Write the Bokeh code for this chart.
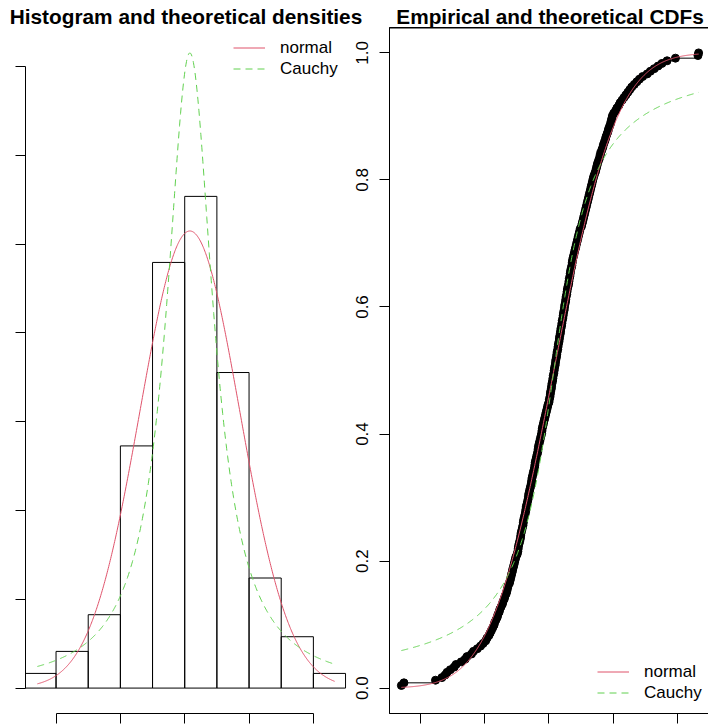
import math

import numpy as np
from bokeh.embed import file_html
from bokeh.layouts import row
from bokeh.models import (FixedTicker, Legend, LegendItem, PrintfTickFormatter,
                          Range1d, Span)
from bokeh.plotting import figure
from bokeh.resources import INLINE

# Observed sample (sorted), 242 values
SAMPLE = [
    -2.29, -2.25,
    -1.76, -1.66, -1.61, -1.58, -1.53,
    -1.47, -1.44, -1.36, -1.30, -1.27, -1.20, -1.17, -1.11, -1.06, -1.02,
    -0.98, -0.96, -0.93, -0.91, -0.89, -0.87, -0.85, -0.84, -0.82, -0.80,
    -0.79, -0.77, -0.76, -0.74, -0.72, -0.71, -0.69, -0.68, -0.66, -0.65,
    -0.64, -0.63, -0.61, -0.60, -0.59, -0.58, -0.57, -0.56, -0.55, -0.54,
    -0.53, -0.52, -0.51,
    -0.49, -0.48, -0.475, -0.47, -0.46, -0.45, -0.44, -0.435, -0.43, -0.42,
    -0.41, -0.40, -0.395, -0.39, -0.38, -0.37, -0.36, -0.355, -0.35, -0.34,
    -0.33, -0.32, -0.315, -0.31, -0.30, -0.29, -0.28, -0.27, -0.265, -0.26,
    -0.25, -0.24, -0.23, -0.22, -0.215, -0.21, -0.20, -0.19, -0.18, -0.17,
    -0.165, -0.16, -0.15, -0.14, -0.13, -0.12, -0.11, -0.105, -0.10, -0.09,
    -0.08, -0.07, -0.06, -0.05, -0.04, -0.03, -0.02, -0.01,
    0.005, 0.01, 0.02, 0.025, 0.03, 0.04, 0.045, 0.05, 0.06, 0.065,
    0.07, 0.08, 0.085, 0.09, 0.10, 0.105, 0.11, 0.12, 0.125, 0.13,
    0.14, 0.145, 0.15, 0.16, 0.165, 0.17, 0.18, 0.185, 0.19, 0.20,
    0.205, 0.21, 0.22, 0.225, 0.23, 0.24, 0.245, 0.25, 0.26, 0.265,
    0.27, 0.28, 0.285, 0.29, 0.30, 0.31, 0.315, 0.32, 0.33, 0.335,
    0.34, 0.35, 0.36, 0.365, 0.37, 0.38, 0.39, 0.40, 0.41, 0.42,
    0.43, 0.44, 0.45, 0.46, 0.47, 0.48, 0.49,
    0.51, 0.52, 0.53, 0.54, 0.55, 0.56, 0.57, 0.58, 0.59, 0.60,
    0.61, 0.62, 0.63, 0.64, 0.65, 0.66, 0.67, 0.68, 0.69, 0.70,
    0.715, 0.73, 0.74, 0.75, 0.76, 0.775, 0.79, 0.80, 0.81, 0.825,
    0.84, 0.85, 0.865, 0.88, 0.89, 0.905, 0.92, 0.93, 0.945, 0.96,
    0.97, 0.98, 0.99,
    1.01, 1.04, 1.06, 1.09, 1.11, 1.14, 1.17, 1.20, 1.23, 1.26,
    1.29, 1.33, 1.37, 1.41, 1.46,
    1.53, 1.58, 1.64, 1.70, 1.76, 1.84, 1.97,
    2.32, 2.33,
]

BIN_EDGES = [-2.5, -2.0, -1.5, -1.0, -0.5, 0.0, 0.5, 1.0, 1.5, 2.0, 2.5]
X_TICKS = [-2, -1, 0, 1, 2]
DENS_TICKS = [0.0, 0.1, 0.2, 0.3, 0.4, 0.5, 0.6, 0.7]
CDF_TICKS = [0.0, 0.2, 0.4, 0.6, 0.8, 1.0]

# Fitted parameters
NORM_MEAN, NORM_SD = 0.08, 0.775
CAUCHY_LOC, CAUCHY_SCALE = 0.08, 0.445

FIT_NAMES = ["normal", "Cauchy"]
FIT_COLORS = ["#DF536B", "#61D04F"]
FIT_DASHES = ["solid", "7 5"]

FONT = "Liberation Sans"

# ---- derived quantities ----
x = np.sort(np.array(SAMPLE, dtype=float))
n = len(x)
F_emp = np.arange(1, n + 1) / n
counts, edges = np.histogram(x, bins=BIN_EDGES)
dens = counts / (n * np.diff(edges))

grid = np.linspace(x.min(), x.max(), 601)
norm_pdf = np.exp(-0.5 * ((grid - NORM_MEAN) / NORM_SD) ** 2) / (NORM_SD * math.sqrt(2 * math.pi))
cauchy_pdf = 1.0 / (math.pi * CAUCHY_SCALE * (1 + ((grid - CAUCHY_LOC) / CAUCHY_SCALE) ** 2))
norm_cdf = np.array([0.5 * (1 + math.erf((g - NORM_MEAN) / (NORM_SD * math.sqrt(2)))) for g in grid])
cauchy_cdf = 0.5 + np.arctan((grid - CAUCHY_LOC) / CAUCHY_SCALE) / math.pi

span = x.max() - x.min()
xlo, xhi = x.min() - 0.04 * span, x.max() + 0.04 * span
ymax = max(dens.max(), norm_pdf.max(), cauchy_pdf.max())

# ---- layout geometry (pixels) ----
PAGE_W, H = 708, 724
FRAME_W = 321
TOP, BOTTOM = 27, 11
LEFT_BL = 25
LEFT_W = LEFT_BL + FRAME_W + 20
RIGHT_BL = 44
RIGHT_W = RIGHT_BL + FRAME_W          # right box runs a little past the page edge
RIGHT_START = 389 - RIGHT_BL
OVERLAP = LEFT_W - RIGHT_START


def style_axis(ax, ticks, bounds=None, label_size="0px", standoff=0):
    ax.ticker = FixedTicker(ticks=ticks)
    if bounds is not None:
        ax.bounds = bounds
    ax.axis_line_color = "black"
    ax.major_tick_line_color = "black"
    ax.major_tick_out = 10
    ax.major_tick_in = 0
    ax.minor_tick_out = 0
    ax.minor_tick_in = 0
    ax.major_label_text_font = FONT
    ax.major_label_text_font_size = label_size
    ax.major_label_text_color = "black"
    ax.major_label_standoff = standoff


def style_title(p):
    p.title.text_font = FONT
    p.title.text_font_size = "20.8px"
    p.title.text_font_style = "bold"
    p.title.align = "center"
    p.title.standoff = 0
    p.title.text_color = "black"


def add_legend(p, renderers, loc):
    items = [LegendItem(label=name, renderers=[r]) for name, r in zip(FIT_NAMES, renderers)]
    leg = Legend(items=items, location=loc, background_fill_alpha=0, border_line_alpha=0,
                 glyph_width=32, glyph_height=21, label_height=21, label_standoff=15,
                 spacing=0, padding=0, margin=0,
                 label_text_font=FONT, label_text_font_size="17px", label_text_color="black")
    p.add_layout(leg)


# ---- left: histogram with fitted densities ----
p1 = figure(width=LEFT_W, height=H, title="Histogram and theoretical densities",
            x_range=Range1d(xlo, xhi), y_range=Range1d(-0.04 * ymax, 1.04 * ymax),
            output_backend="svg", toolbar_location=None,
            min_border_left=LEFT_BL, min_border_right=LEFT_W - LEFT_BL - FRAME_W,
            min_border_top=TOP, min_border_bottom=BOTTOM)
p1.grid.visible = False
p1.outline_line_color = None
style_title(p1)
style_axis(p1.xaxis[0], X_TICKS, bounds=(X_TICKS[0], X_TICKS[-1]))
style_axis(p1.yaxis[0], DENS_TICKS, bounds=(DENS_TICKS[0], DENS_TICKS[-1]))
p1.yaxis[0].formatter = PrintfTickFormatter(format="%.1f")

p1.quad(left=edges[:-1], right=edges[1:], bottom=0, top=dens,
        fill_color=None, line_color="black", line_width=1)
r_n = p1.line(grid, norm_pdf, line_color=FIT_COLORS[0], line_width=1, line_dash=FIT_DASHES[0])
r_c = p1.line(grid, cauchy_pdf, line_color=FIT_COLORS[1], line_width=1, line_dash=FIT_DASHES[1])
add_legend(p1, [r_n, r_c], (208, 634))

# ---- right: empirical and fitted CDFs (boxed) ----
cdf_yr = Range1d(-0.04, 1.04)
p2 = figure(width=RIGHT_W, height=H, title="Empirical and theoretical CDFs",
            x_range=Range1d(xlo, xhi), y_range=cdf_yr,
            output_backend="svg", toolbar_location=None,
            min_border_left=RIGHT_BL, min_border_right=0,
            min_border_top=TOP, min_border_bottom=BOTTOM,
            border_fill_color=None, background_fill_color=None)
p2.margin = (0, 0, 0, -OVERLAP)
p2.grid.visible = False
p2.outline_line_color = "black"
p2.outline_line_width = 1
style_title(p2)
style_axis(p2.xaxis[0], X_TICKS)
style_axis(p2.yaxis[0], CDF_TICKS, label_size="17px", standoff=11)
p2.yaxis[0].formatter = PrintfTickFormatter(format="%.1f")
p2.yaxis[0].major_label_orientation = "vertical"
# top side of the box, kept crisp
p2.add_layout(Span(location=cdf_yr.end, dimension="width", line_color="black", line_width=2))

p2.step(x, F_emp, mode="after", line_color="black", line_width=1)
p2.scatter(x, F_emp, size=8, fill_color="black", line_color="black")
r_n2 = p2.line(grid, norm_cdf, line_color=FIT_COLORS[0], line_width=1, line_dash=FIT_DASHES[0])
r_c2 = p2.line(grid, cauchy_cdf, line_color=FIT_COLORS[1], line_width=1, line_dash=FIT_DASHES[1])
add_legend(p2, [r_n2, r_c2], (208, 10))

layout = row(p1, p2, width=PAGE_W, styles={"overflow": "hidden"})
open("out.html", "w").write(file_html(layout, INLINE))
